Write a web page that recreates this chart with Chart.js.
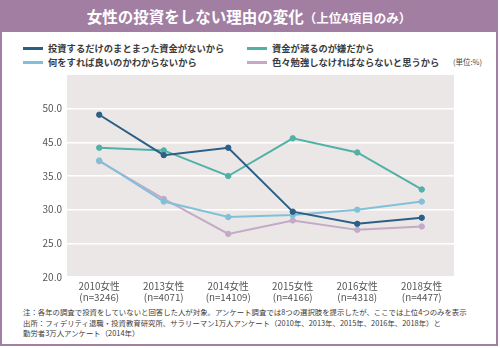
<!DOCTYPE html>
<html>
<head>
<meta charset="utf-8">
<script src="https://cdn.jsdelivr.net/npm/chart.js@4"></script>
<style>
  html, body { margin:0; padding:0; background:#fff; }
  body { width:500px; height:348px; position:relative; overflow:hidden;
         font-family:"Noto Sans CJK JP","Noto Sans",sans-serif; }
  #frame { position:absolute; left:0; top:0; width:494px; height:344px;
           border:2px solid #a27ea2; border-top:none; }
  #title { position:absolute; left:0; top:0; width:498px; height:32px; background:#a27ea2;
           color:#fff; font-weight:bold; text-align:center; line-height:32px; font-size:15.5px; }
  #title small { font-size:12.5px; }
  .lg { position:absolute; font-size:9.3px; font-weight:bold; color:#3a3a3a; white-space:nowrap; line-height:12px; }
  .lg i { position:absolute; left:-25px; top:5px; width:20px; height:2.5px; }
  #unit { position:absolute; left:453px; top:56px; font-size:7.5px; color:#444; line-height:12px; }
  #note { position:absolute; left:23px; top:307px; font-size:7.4px; color:#3a3a3a; line-height:10.5px; white-space:nowrap; }
  #c { position:absolute; left:0; top:0; }
</style>
</head>
<body>
<div id="frame"></div>
<div id="title">女性の投資をしない理由の変化<small>（上位4項目のみ）</small></div>
<div id="legend"></div>
<div id="unit">(単位:%)</div>
<div id="note">注：各年の調査で投資をしていないと回答した人が対象。アンケート調査では8つの選択肢を提示したが、ここでは上位4つのみを表示<br>出所：フィデリティ退職・投資教育研究所、サラリーマン1万人アンケート（2010年、2013年、2015年、2016年、2018年）と<br>勤労者3万人アンケート（2014年）</div>
<canvas id="c" width="500" height="348"></canvas>
<script>
const years = ["2010女性","2013女性","2014女性","2015女性","2016女性","2018女性"];
const samples = ["(n=3246)","(n=4071)","(n=14109)","(n=4166)","(n=4318)","(n=4477)"];
const seriesNames = ["投資するだけのまとまった資金がないから","資金が減るのが嫌だから","何をすれば良いのかわからないから","色々勉強しなければならないと思うから"];
const noFunds = [44.1, 38.1, 39.2, 29.7, 27.9, 28.8];
const fearLoss = [39.2, 38.8, 35.0, 40.6, 38.5, 33.0];
const dontKnow = [37.3, 31.2, 28.9, 29.2, 30.0, 31.2];
const mustStudy = [37.2, 31.6, 26.4, 28.4, 27.0, 27.5];
const tickValues = [20, 25, 30, 35, 40, 45];
const tickLabels = ["20.0", "25.0", "30.0", "35.0", "45.0", "50.0"];
const colors = ["#2c5f86", "#52b1a7", "#80c1d9", "#c4aac6"];

// HTML legend
const legendPos = [[48,42],[272,42],[48,56],[272,56]];
const lg = document.getElementById('legend');
seriesNames.forEach((name,k)=>{
  const d = document.createElement('div');
  d.className='lg';
  d.style.left = legendPos[k][0]+'px';
  d.style.top = legendPos[k][1]+'px';
  d.innerHTML = '<i style="background:'+colors[k]+'"></i>'+name;
  lg.appendChild(d);
});

const bgPlugin = {
  id:'bg',
  beforeDraw(chart){
    const a = chart.chartArea, ctx = chart.ctx;
    ctx.save(); ctx.fillStyle = '#ebe7e7';
    ctx.fillRect(a.left, a.top, a.right-a.left, a.bottom-a.top);
    ctx.restore();
  }
};

const dataArr = [noFunds, fearLoss, dontKnow, mustStudy];
new Chart(document.getElementById('c'), {
  type:'line',
  data:{
    labels: years.map((y,i)=>[y, samples[i]]),
    datasets: dataArr.map((d,k)=>({
      label: seriesNames[k], data:d, borderColor:colors[k], backgroundColor:colors[k],
      borderWidth:2, pointRadius:2.7, pointBorderWidth:1, pointHoverRadius:2.7, tension:0, fill:false
    }))
  },
  options:{
    responsive:false, animation:false,
    layout:{ padding:{ top:75, right:46, left:0, bottom:0 } },
    plugins:{ legend:{display:false}, tooltip:{enabled:false} },
    scales:{
      x:{
        offset:true,
        grid:{ display:false, drawTicks:false },
        border:{ display:false },
        ticks:{ color:'#555', font:{ size:9.8, family:"'Noto Sans CJK JP'", lineHeight:1.1 }, padding:4, maxRotation:0, autoSkip:false },
        afterFit(s){ s.height = 71; }
      },
      y:{
        min:20, max:50,
        afterBuildTicks(s){ s.ticks = tickValues.map(v=>({value:v})); },
        grid:{ color:'#ffffff', lineWidth:1.6, drawTicks:false },
        border:{ display:false },
        ticks:{ color:'#555', font:{ size:10, family:"'Noto Sans CJK JP'" }, padding:5,
                callback(v){ const i = tickValues.indexOf(v); return i>=0 ? tickLabels[i] : ''; } },
        afterFit(s){ s.width = 67; }
      }
    }
  },
  plugins:[bgPlugin]
});
</script>
</body>
</html>
